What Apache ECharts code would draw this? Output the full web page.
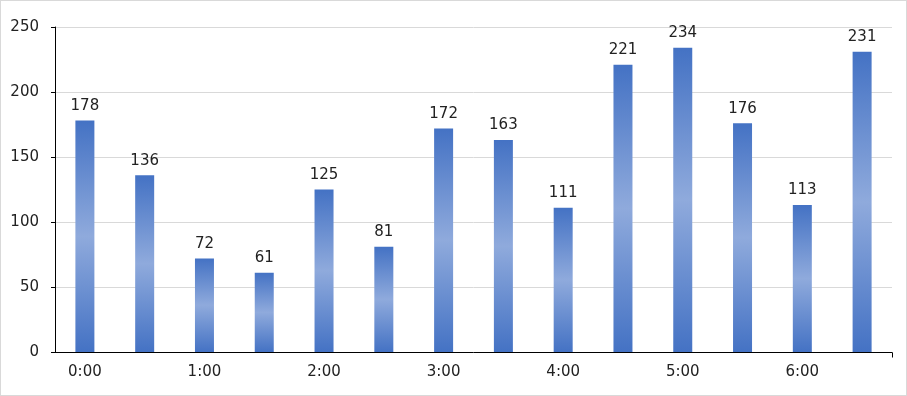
<!DOCTYPE html>
<html>
<head>
<meta charset="utf-8">
<script src="https://cdn.jsdelivr.net/npm/echarts@6/dist/echarts.min.js"></script>
<style>
html,body{margin:0;padding:0;background:#fff;}
#c{width:907px;height:396px;box-sizing:border-box;border:1px solid #d9d9d9;}
</style>
</head>
<body>
<div id="c"></div>
<script>
const categories = ['0:00','0:30','1:00','1:30','2:00','2:30','3:00','3:30','4:00','4:30','5:00','5:30','6:00','6:30'];
const values = [178,136,72,61,125,81,172,163,111,221,234,176,113,231];
const yTicks = {min:0, max:250, interval:50};

const chart = echarts.init(document.getElementById('c'), null, {renderer:'canvas'});
const font = 'Verdana, "DejaVu Sans", sans-serif';
const grid = {left:54, right:14, top:26, bottom:43};
chart.setOption({
  animation:false,
  grid:grid,
  xAxis:{
    type:'category', data:categories,
    axisLine:{lineStyle:{color:'#000', width:1}},
    axisTick:{alignWithLabel:true, interval:0, length:5, lineStyle:{color:'#000'}},
    axisLabel:{interval:1, color:'#222', fontSize:15, fontFamily:font, margin:13}
  },
  yAxis:{
    type:'value', min:yTicks.min, max:yTicks.max, interval:yTicks.interval,
    axisLine:{show:true, lineStyle:{color:'#000', width:1}},
    axisTick:{show:true, length:4, lineStyle:{color:'#000'}},
    axisLabel:{color:'#222', fontSize:15, fontFamily:font, margin:16},
    splitLine:{lineStyle:{color:'#d9d9d9'}}
  },
  series:[{
    type:'bar', data:values, barWidth:19,
    itemStyle:{color:new echarts.graphic.LinearGradient(0,0,0,1,[
      {offset:0,color:'#4472c4'},{offset:0.5,color:'#8faadc'},{offset:1,color:'#4472c4'}])},
    label:{show:true, position:'top', distance:7, color:'#222', fontSize:15, fontFamily:font}
  }]
});
// closing tick at the right end of the category axis
const rect = chart.getModel().getComponent('grid').coordinateSystem.getRect();
const xEnd = Math.round(rect.x + rect.width) + 0.5;
const yBase = Math.round(rect.y + rect.height) + 0.5;
chart.setOption({graphic:[{type:'line', shape:{x1:xEnd, y1:yBase, x2:xEnd, y2:yBase+5}, style:{stroke:'#000', lineWidth:1}}]});
</script>
</body>
</html>
